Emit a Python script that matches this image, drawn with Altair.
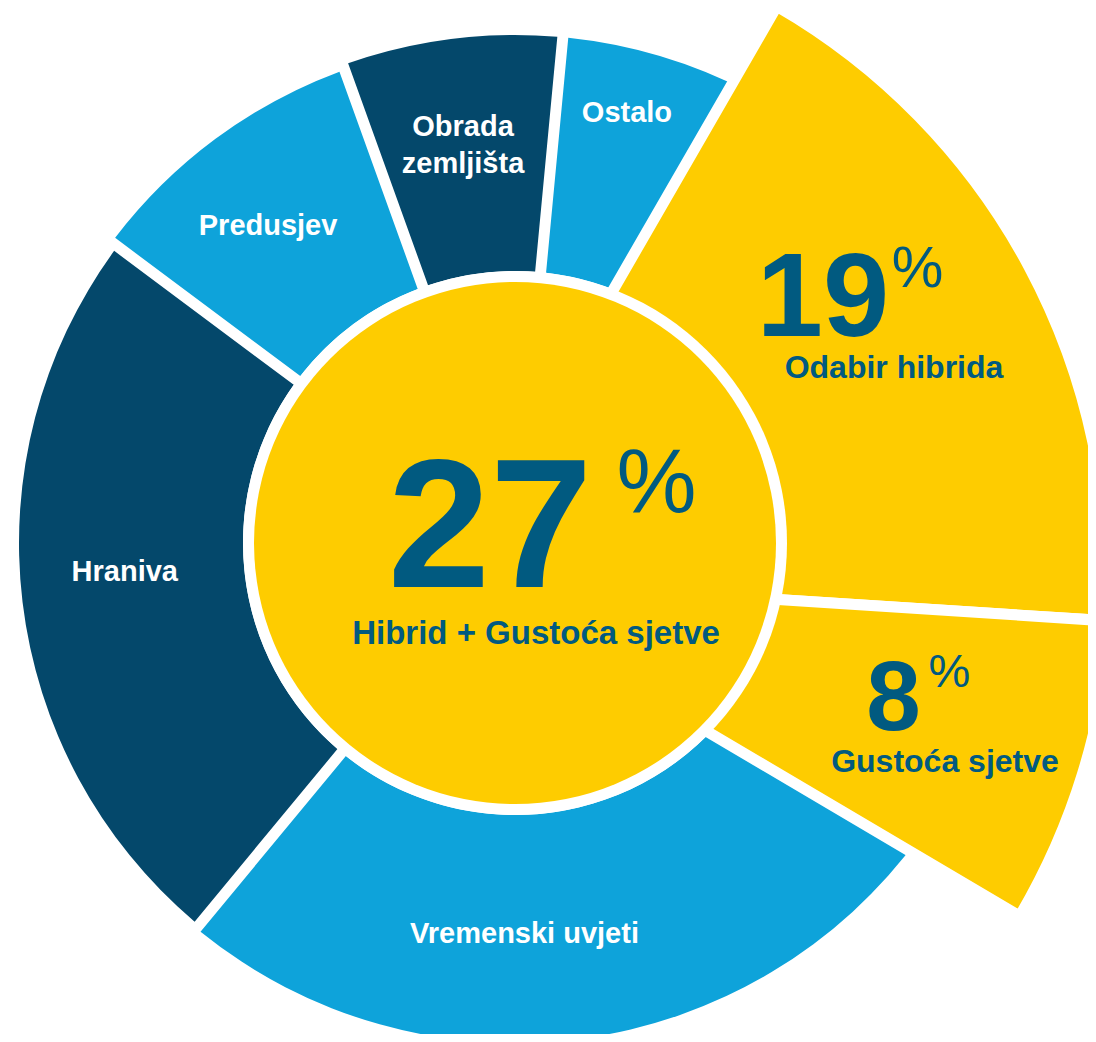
import math
import altair as alt
import pandas as pd

# ---------------- data ----------------
# outer ring (angular share of the full circle, %, as drawn around the main centre)
ring_categories = ["Ostalo", "Hibrid + Gustoća sjetve", "Vremenski uvjeti",
                   "Hraniva", "Predusjev", "Obrada zemljišta"]
ring_labels = ["Ostalo", "", "Vremenski uvjeti", "Hraniva", "Predusjev", "Obrada\nzemljišta"]
ring_shares = [6.3, 27.0, 26.2, 24.2, 9.3, 7.0]
ring_tones = ["light", "yellow", "light", "dark", "light", "dark"]

# highlighted (exploded) hybrid part, printed percentages
hybrid_categories = ["Odabir hibrida", "Gustoća sjetve"]
hybrid_values = [19, 8]
center_pct = "27"
center_label = "Hibrid + Gustoća sjetve"
pct_sign = "%"

ring_df = pd.DataFrame({
    "order": list(range(len(ring_categories))),
    "category": ring_categories,
    "label": ring_labels,
    "share": ring_shares,
    "tone": ring_tones,
})
hyb_df = pd.DataFrame({
    "order": list(range(len(hybrid_categories))),
    "category": hybrid_categories,
    "value": hybrid_values,
    "pct": [str(v) for v in hybrid_values],
    "sign": [pct_sign] * len(hybrid_values),
})

# ---------------- style ----------------
FONT = "Liberation Sans"
YELLOW = "#FECC00"
LIGHT = "#0EA3DA"
DARK = "#04486B"
TEXT_BLUE = "#015A80"
W, H = 1080, 1026
CX, CY = 507, 535          # centre of the ring inside the view
HX, HY = 439, 570          # centre of the exploded yellow wedges
INNER = 272                # inner radius of the ring (white ring edge)
CORE = 261                 # radius of the central disc
GAP = 11                   # white gap width between segments
A0 = math.radians(5.4)     # angle where the ring starts
HYB_RANGE = [math.radians(29.98), math.radians(120.55)]

outer = {"Ostalo": 508, "Vremenski uvjeti": 500, "Hraniva": 496,
         "Predusjev": 503, "Obrada zemljišta": 508}
hyb_outer = {"Odabir hibrida": 660, "Gustoća sjetve": 665}

ring_theta = alt.Scale(domain=[0, 100], range=[A0, A0 + 2 * math.pi])
hyb_theta = alt.Scale(domain=[0, sum(hybrid_values)], range=HYB_RANGE)
color_scale = alt.Scale(domain=["light", "yellow", "dark"], range=[LIGHT, YELLOW, DARK])

ring = alt.Chart(ring_df).transform_window(
    end="sum(share)", sort=[alt.SortField("order")], frame=[None, 0]
).transform_calculate(start="datum.end - datum.share", mid="datum.end - datum.share / 2")

hyb = alt.Chart(hyb_df).transform_window(
    end="sum(value)", sort=[alt.SortField("order")], frame=[None, 0]
).transform_calculate(start="datum.end - datum.value", mid="datum.end - datum.value / 2")

layers = []
# blue ring segments
for cat, r in outer.items():
    pad = GAP / math.sqrt(r ** 2 + INNER ** 2)
    layers.append(
        ring.transform_filter(alt.datum.category == cat)
        .mark_arc(radius=r, radius2=INNER, padAngle=pad)
        .encode(theta=alt.Theta("start:Q", scale=ring_theta), theta2="end:Q",
                color=alt.Color("tone:N", scale=color_scale, legend=None),
                x=alt.value(CX), y=alt.value(CY))
    )

# exploded yellow wedges with white borders
for cat, r in hyb_outer.items():
    layers.append(
        hyb.transform_filter(alt.datum.category == cat)
        .mark_arc(radius=r, radius2=190, color=YELLOW, stroke="white",
                  strokeWidth=GAP, strokeJoin="miter")
        .encode(theta=alt.Theta("start:Q", scale=hyb_theta), theta2="end:Q",
                x=alt.value(HX), y=alt.value(HY))
    )

# white ring + central disc
disc_df = pd.DataFrame({"v": [center_pct]})
layers.append(alt.Chart(disc_df).mark_arc(radius=INNER, color="white").encode(
    theta=alt.value(0), theta2=alt.value(2 * math.pi), x=alt.value(CX), y=alt.value(CY)))
layers.append(alt.Chart(disc_df).mark_arc(radius=CORE, color=YELLOW).encode(
    theta=alt.value(0), theta2=alt.value(2 * math.pi), x=alt.value(CX), y=alt.value(CY)))

# white segment labels: (radius, dx, dy)
label_style = {
    "Ostalo": (446, -16.5, -2.7),
    "Obrada zemljišta": (402, -1.6, -17),
    "Predusjev": (403, -7, 6.5),
    "Hraniva": (391, -2, -17.4),
    "Vremenski uvjeti": (390, -41.8, 4.6),
}
for cat, (rad, dx, dy) in label_style.items():
    layers.append(
        ring.transform_filter(alt.datum.category == cat)
        .mark_text(radius=rad, dx=dx, dy=dy, font=FONT, fontSize=29,
                   fontWeight="bold", color="white", align="center",
                   baseline="middle", lineBreak="\n", lineHeight=37)
        .encode(theta=alt.Theta("mid:Q", scale=ring_theta), text="label:N",
                x=alt.value(CX), y=alt.value(CY))
    )

# yellow wedge labels: anchor radius, then (field, size, weight, dx, dy)
yellow_style = {
    "Odabir hibrida": (480, [("pct", 119, "bold", -47.2, -15.6),
                             ("sign", 58, "normal", 47.3, -64.6),
                             ("category", 32, "bold", 23.8, 26.4)]),
    "Gustoća sjetve": (480, [("pct", 98, "bold", -12.2, 10.6),
                             ("sign", 47, "normal", 43.8, -32.4),
                             ("category", 32, "bold", 39.3, 52.6)]),
}
for cat, (rad, parts) in yellow_style.items():
    for field, size, weight, dx, dy in parts:
        layers.append(
            hyb.transform_filter(alt.datum.category == cat)
            .mark_text(radius=rad, dx=dx, dy=dy, font=FONT, fontSize=size,
                       fontWeight=weight, color=TEXT_BLUE, align="center",
                       baseline="alphabetic")
            .encode(theta=alt.Theta("mid:Q", scale=hyb_theta), text=f"{field}:N",
                    x=alt.value(HX), y=alt.value(HY))
        )

# centre texts
center_df = pd.DataFrame({"pct": [center_pct], "label": [center_label], "sign": [pct_sign]})
for field, size, weight, dx, dy in [("pct", 184, "bold", -25, 44),
                                    ("sign", 90, "normal", 141.5, -31),
                                    ("label", 33, "bold", 21, 101)]:
    layers.append(
        alt.Chart(center_df).mark_text(
            dx=dx, dy=dy, font=FONT, fontSize=size, fontWeight=weight,
            color=TEXT_BLUE, align="center", baseline="alphabetic"
        ).encode(text=f"{field}:N", x=alt.value(CX), y=alt.value(CY))
    )

chart = alt.layer(*layers).resolve_scale(theta="independent").properties(
    width=W, height=H, padding=0, autosize="none", background="white"
).configure_view(stroke=None)

chart.save("out.html", embed_options={"renderer": "svg", "actions": False})
